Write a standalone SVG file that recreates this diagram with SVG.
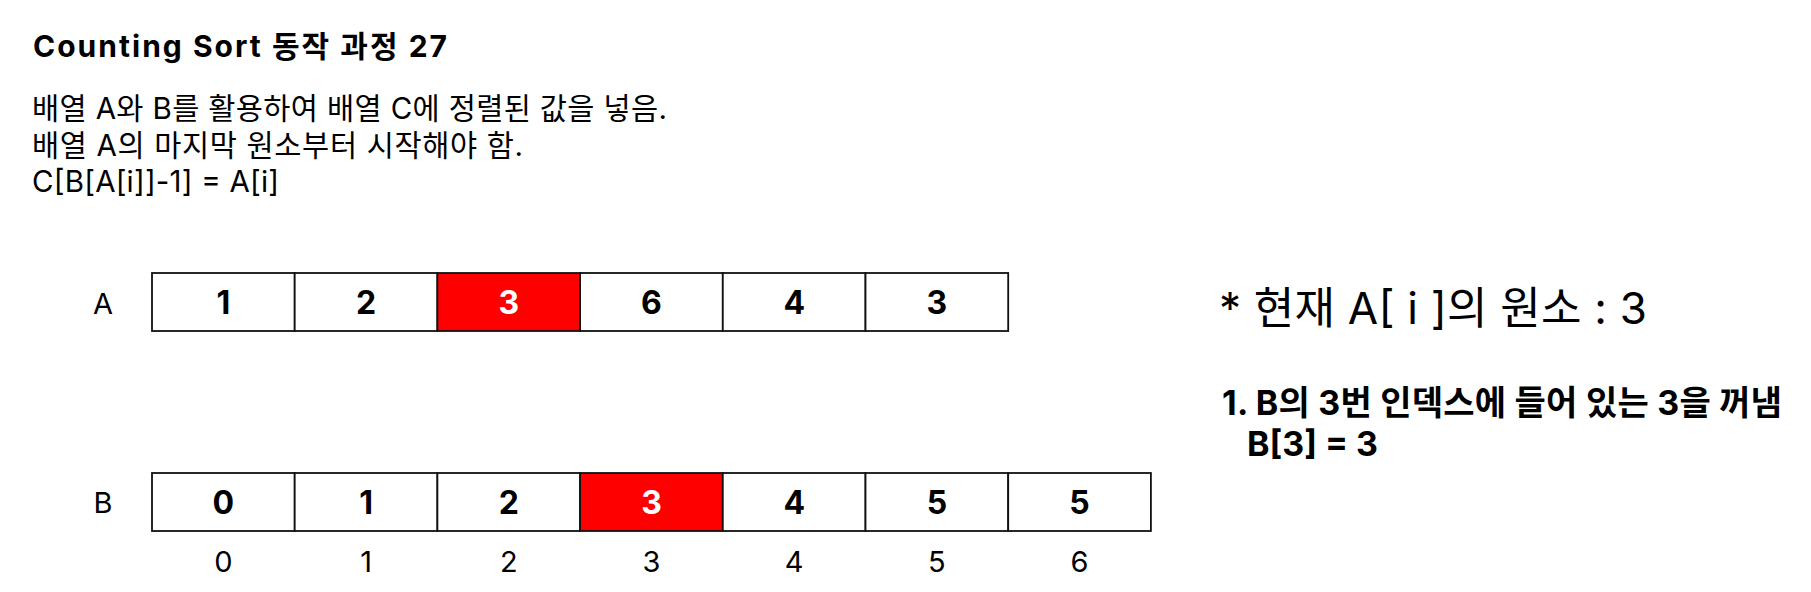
<svg xmlns="http://www.w3.org/2000/svg" width="1811" height="592" viewBox="0 0 1811 592">
<style>
text{font-family:"Inter","Noto Sans CJK KR",sans-serif;fill:#000}
.t{font-size:30px;font-weight:700}
.b{font-size:29.5px}
.lab{font-size:29px;text-anchor:middle}
.v{font-size:32px;font-weight:700;text-anchor:middle}
.vr{font-size:32px;font-weight:700;text-anchor:middle;fill:#fff}
.big{font-size:44px}
.bold{font-size:34px;font-weight:700}
.cell{fill:#fff;stroke:#111;stroke-width:1.8}
.hot{fill:#ff0000;stroke:#111;stroke-width:1.8}
</style>
<rect width="1811" height="592" fill="#fff"/>
<g id="header">
<text class="t" x="33" y="57" textLength="414" lengthAdjust="spacing">Counting Sort 동작 과정 27</text>
<text class="b" x="32" y="119" textLength="635" lengthAdjust="spacing">배열 A와 B를 활용하여 배열 C에 정렬된 값을 넣음.</text>
<text class="b" x="32" y="156" textLength="491" lengthAdjust="spacing">배열 A의 마지막 원소부터 시작해야 함.</text>
<text class="b" x="32" y="192" textLength="247" lengthAdjust="spacing">C[B[A[i]]-1] = A[i]</text>
</g>
<g id="arrayA">
<text class="lab" x="103" y="314">A</text>
<rect class="cell" x="152" y="273" width="142.7" height="58"/>
<rect class="cell" x="294.7" y="273" width="142.7" height="58"/>
<rect class="hot" x="437.4" y="273" width="142.7" height="58"/>
<rect class="cell" x="580.1" y="273" width="142.7" height="58"/>
<rect class="cell" x="722.8" y="273" width="142.7" height="58"/>
<rect class="cell" x="865.5" y="273" width="142.7" height="58"/>
<text class="v" x="223.4" y="314">1</text>
<text class="v" x="366.1" y="314">2</text>
<text class="vr" x="508.8" y="314">3</text>
<text class="v" x="651.5" y="314">6</text>
<text class="v" x="794.2" y="314">4</text>
<text class="v" x="936.9" y="314">3</text>
</g>
<g id="arrayB">
<text class="lab" x="103" y="513">B</text>
<rect class="cell" x="152" y="473" width="142.7" height="58"/>
<rect class="cell" x="294.7" y="473" width="142.7" height="58"/>
<rect class="cell" x="437.4" y="473" width="142.7" height="58"/>
<rect class="hot" x="580.1" y="473" width="142.7" height="58"/>
<rect class="cell" x="722.8" y="473" width="142.7" height="58"/>
<rect class="cell" x="865.5" y="473" width="142.7" height="58"/>
<rect class="cell" x="1008.2" y="473" width="142.7" height="58"/>
<text class="v" x="223.4" y="514">0</text>
<text class="v" x="366.1" y="514">1</text>
<text class="v" x="508.8" y="514">2</text>
<text class="vr" x="651.5" y="514">3</text>
<text class="v" x="794.2" y="514">4</text>
<text class="v" x="936.9" y="514">5</text>
<text class="v" x="1079.6" y="514">5</text>
</g>
<g id="indices">
<text class="lab" x="223.4" y="572">0</text>
<text class="lab" x="366.1" y="572">1</text>
<text class="lab" x="508.8" y="572">2</text>
<text class="lab" x="651.5" y="572">3</text>
<text class="lab" x="794.2" y="572">4</text>
<text class="lab" x="936.9" y="572">5</text>
<text class="lab" x="1079.6" y="572">6</text>
</g>
<g id="notes">
<text class="big" x="1219" y="324" textLength="428" lengthAdjust="spacing">* 현재 A[ i ]의 원소 : 3</text>
<text class="bold" x="1222" y="415" textLength="560" lengthAdjust="spacing">1. B의 3번 인덱스에 들어 있는 3을 꺼냄</text>
<text class="bold" x="1247" y="456" textLength="131" lengthAdjust="spacing">B[3] = 3</text>
</g>
<g id="connectors"></g>
</svg>
